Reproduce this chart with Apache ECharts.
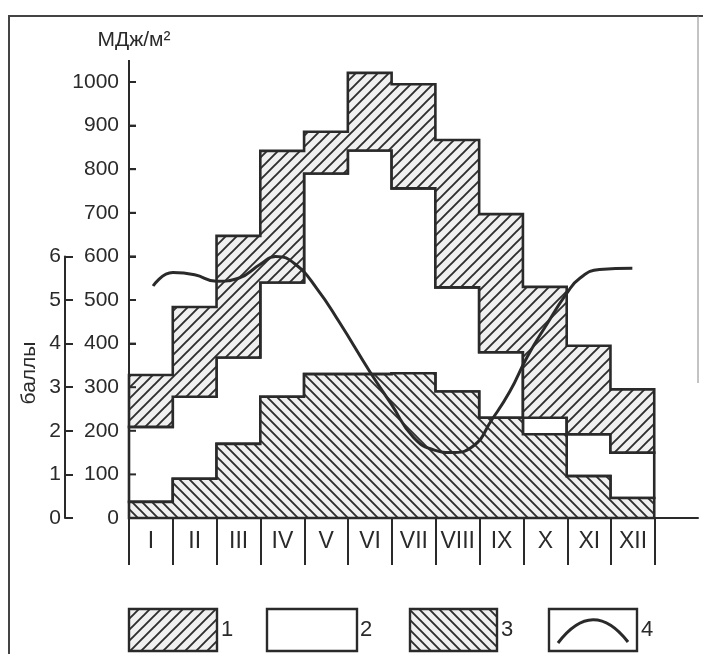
<!DOCTYPE html>
<html>
<head>
<meta charset="utf-8">
<script src="https://cdn.jsdelivr.net/npm/echarts@6/dist/echarts.min.js"></script>
<style>
html,body{margin:0;padding:0;background:#fff;}
#chart{width:703px;height:654px;}
</style>
</head>
<body>
<div id="chart"></div>
<script>
// ---- data ----
const months = ['I','II','III','IV','V','VI','VII','VIII','IX','X','XI','XII'];
// layer 1 (hatched ///): from layer1Bottom up to layer1Top, MJ/m2
const layer1Top    = [328, 484, 647, 842, 886, 1021, 995, 867, 697, 530, 395, 295];
const layer1Bottom = [209, 278, 368, 540, 790, 843, 756, 529, 380, 230, 192, 150];
// layer 3 (hatched \\\): from 0 up to layer3Top, MJ/m2
const layer3Top    = [37, 90, 170, 278, 330, 330, 332, 290, 230, 192, 96, 46];
// curve 4 (баллы), x in month units from start of January
const curveX = [0.55, 1.0, 1.5, 2.0, 2.5, 3.0, 3.35, 3.8, 4.3, 4.8, 5.5, 6.0, 6.5, 7.0, 7.35, 7.85, 8.3, 8.7, 9.1, 9.55, 10.0, 10.3, 10.75, 11.5];
const curveY = [5.32, 5.63, 5.58, 5.43, 5.5, 5.82, 6.0, 5.82, 5.25, 4.5, 3.36, 2.6, 1.85, 1.55, 1.5, 1.64, 2.27, 2.9, 3.7, 4.45, 5.15, 5.5, 5.7, 5.73];
const mjTicks = [0, 100, 200, 300, 400, 500, 600, 700, 800, 900, 1000];
const ballTicks = [0, 1, 2, 3, 4, 5, 6];
const legendNames = ['1', '2', '3', '4'];

// ---- styles ----
const INK = '#2a2a2a';
const FONT = "'Liberation Sans', Arial, sans-serif";
const NARROW = "'Liberation Sans Narrow', 'Liberation Sans', Arial, sans-serif";

function hatch(dir, size) {
  const c = document.createElement('canvas');
  c.width = size; c.height = size;
  const g = c.getContext('2d');
  g.fillStyle = '#f0f0f0';
  g.fillRect(0, 0, size, size);
  g.strokeStyle = '#2e2e2e';
  g.lineWidth = 1.9;
  g.beginPath();
  if (dir > 0) {
    g.moveTo(-2, size + 2); g.lineTo(size + 2, -2);
    g.moveTo(-2, 2); g.lineTo(2, -2);
    g.moveTo(size - 2, size + 2); g.lineTo(size + 2, size - 2);
  } else {
    g.moveTo(-2, -2); g.lineTo(size + 2, size + 2);
    g.moveTo(size - 2, -2); g.lineTo(size + 2, 2);
    g.moveTo(-2, size - 2); g.lineTo(2, size + 2);
  }
  g.stroke();
  return c;
}
const patFwd = { image: hatch(1, 11), repeat: 'repeat' };
const patBack = { image: hatch(-1, 10), repeat: 'repeat' };

const zeros = layer3Top.map(() => 0);

function bandSeries(lower, upper, fill, name) {
  return {
    type: 'custom',
    name: name,
    xAxisIndex: 0, yAxisIndex: 0,
    data: [[0, 0]],
    clip: false,
    renderItem: function (params, api) {
      const pts = [];
      for (let i = 0; i < upper.length; i++) {
        pts.push(api.coord([i, upper[i]]));
        pts.push(api.coord([i + 1, upper[i]]));
      }
      for (let i = lower.length - 1; i >= 0; i--) {
        pts.push(api.coord([i + 1, lower[i]]));
        pts.push(api.coord([i, lower[i]]));
      }
      return {
        type: 'polygon',
        shape: { points: pts },
        style: { fill: fill, stroke: INK, lineWidth: 2.6, lineJoin: 'miter' }
      };
    }
  };
}

const chart = echarts.init(document.getElementById('chart'), null, { renderer: 'canvas' });

const axisTop = 60;            // top end of the drawn MJ axis line
const mjTop = 82;              // pixel row of the 1000 tick
const gridBottom = 136;
const zeroY = 654 - gridBottom;
const ballTop = zeroY - (zeroY - mjTop) * 600 / 1000;
const ext = mjTop - axisTop;
const tickLen = 7;

chart.setOption({
  animation: false,
  backgroundColor: '#ffffff',
  grid: [
    { left: 129, right: 5, top: mjTop, bottom: gridBottom },
    { left: 129, right: 48, top: mjTop, bottom: gridBottom },
    { left: 129, right: 5, top: ballTop, bottom: gridBottom }
  ],
  xAxis: [
    { gridIndex: 0, type: 'value', min: 0, max: 13,
      axisLine: { show: true, onZero: false, lineStyle: { color: INK, width: 2 } },
      axisTick: { show: false }, axisLabel: { show: false }, splitLine: { show: false } },
    { gridIndex: 1, type: 'category', data: months, boundaryGap: true,
      axisLine: { show: false },
      axisTick: { show: true, interval: 0, length: 47, lineStyle: { color: INK, width: 2 } },
      axisLabel: { interval: 0, margin: 12, fontSize: 23, color: INK, fontFamily: NARROW },
      splitLine: { show: false } },
    { gridIndex: 2, type: 'value', min: 0, max: 13, show: false }
  ],
  yAxis: [
    { gridIndex: 0, type: 'value', min: mjTicks[0], max: mjTicks[mjTicks.length - 1], interval: 100,
      axisLine: { show: true, onZero: false, symbol: ['none', 'rect'], symbolSize: [2, ext * 2],
                  lineStyle: { color: INK, width: 2 } },
      axisTick: { show: true, inside: true, length: tickLen, lineStyle: { color: INK, width: 2 } },
      axisLabel: { fontSize: 21, margin: 10, color: INK, fontFamily: FONT,
                   formatter: function (v) { return String(v); } },
      splitLine: { show: false } },
    { gridIndex: 1, type: 'value', show: false },
    { gridIndex: 2, type: 'value', min: ballTicks[0], max: ballTicks[ballTicks.length - 1], interval: 1,
      position: 'left', offset: 64,
      axisLine: { show: true, onZero: false, lineStyle: { color: INK, width: 2 } },
      axisTick: { show: true, inside: true, length: 8, lineStyle: { color: INK, width: 2 } },
      axisLabel: { fontSize: 21, margin: 4, color: INK, fontFamily: FONT },
      splitLine: { show: false } }
  ],
  series: [
    bandSeries(layer3Top, layer1Bottom, '#ffffff', legendNames[1]),
    bandSeries(zeros, layer3Top, patBack, legendNames[2]),
    bandSeries(layer1Bottom, layer1Top, patFwd, legendNames[0]),
    // MJ axis tick marks (drawn through the axis scale, pointing into the plot)
    { type: 'custom', name: 'mjTicks', xAxisIndex: 0, yAxisIndex: 0, clip: false, z: 6,
      data: mjTicks.map(v => [0, v]), silent: true,
      renderItem: function (params, api) {
        const p = api.coord([api.value(0), api.value(1)]);
        return { type: 'line', shape: { x1: p[0], y1: p[1], x2: p[0] + tickLen, y2: p[1] },
                 style: { stroke: INK, lineWidth: 2 } };
      } },
    { type: 'line', name: legendNames[3], xAxisIndex: 2, yAxisIndex: 2,
      data: curveX.map((x, i) => [x, curveY[i]]),
      smooth: 0.5, symbol: 'none', clip: false,
      lineStyle: { color: INK, width: 3 }, z: 5 }
  ],
  graphic: [
    // frame
    { type: 'line', shape: { x1: 8, y1: 16, x2: 703, y2: 16 }, style: { stroke: '#444', lineWidth: 2 } },
    { type: 'line', shape: { x1: 9, y1: 16, x2: 9, y2: 654 }, style: { stroke: '#444', lineWidth: 2 } },
    { type: 'line', shape: { x1: 698, y1: 16, x2: 698, y2: 383 }, style: { stroke: '#888', lineWidth: 1 } },
    // axis titles
    { type: 'text', x: 134, y: 40, style: { text: 'МДж/м²', fill: INK, font: '21px ' + FONT, textAlign: 'center', textVerticalAlign: 'middle' } },
    { type: 'text', x: 29, y: 373, rotation: Math.PI / 2, style: { text: 'баллы', fill: INK, font: '21px ' + FONT, textAlign: 'center', textVerticalAlign: 'middle' } },
    // legend
    { type: 'rect', shape: { x: 129, y: 609, width: 88, height: 42 }, style: { fill: patFwd, stroke: INK, lineWidth: 2.4 } },
    { type: 'text', x: 221, y: 630, style: { text: legendNames[0], fill: INK, font: '22px ' + FONT, textVerticalAlign: 'middle' } },
    { type: 'rect', shape: { x: 267, y: 609, width: 90, height: 42 }, style: { fill: '#fff', stroke: INK, lineWidth: 2.4 } },
    { type: 'text', x: 360, y: 630, style: { text: legendNames[1], fill: INK, font: '22px ' + FONT, textVerticalAlign: 'middle' } },
    { type: 'rect', shape: { x: 410, y: 609, width: 87, height: 42 }, style: { fill: patBack, stroke: INK, lineWidth: 2.4 } },
    { type: 'text', x: 501, y: 630, style: { text: legendNames[2], fill: INK, font: '22px ' + FONT, textVerticalAlign: 'middle' } },
    { type: 'rect', shape: { x: 549, y: 609, width: 88, height: 42 }, style: { fill: '#fff', stroke: INK, lineWidth: 2.4 } },
    { type: 'bezierCurve', shape: { x1: 558, y1: 643, cpx1: 593, cpy1: 597, x2: 628, y2: 642 }, style: { fill: null, stroke: INK, lineWidth: 3 } },
    { type: 'text', x: 641, y: 630, style: { text: legendNames[3], fill: INK, font: '22px ' + FONT, textVerticalAlign: 'middle' } }
  ]
});
</script>
</body>
</html>
